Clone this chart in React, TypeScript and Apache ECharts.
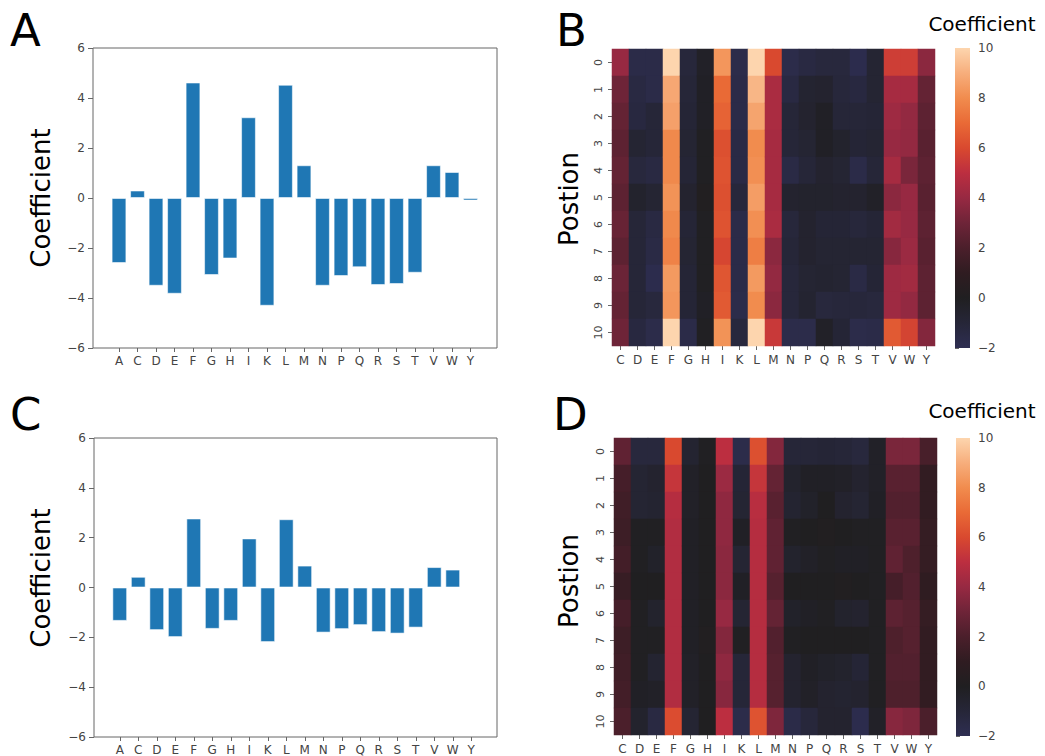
import React, { useEffect, useRef } from "react";
import * as echarts from "echarts";

// ---------- data ----------
const residues20 = ["A", "C", "D", "E", "F", "G", "H", "I", "K", "L", "M", "N", "P", "Q", "R", "S", "T", "V", "W", "Y"];
const residues19 = ["C", "D", "E", "F", "G", "H", "I", "K", "L", "M", "N", "P", "Q", "R", "S", "T", "V", "W", "Y"];
const positions = ["0", "1", "2", "3", "4", "5", "6", "7", "8", "9", "10"];
const colorbarTicks = [-2, 0, 2, 4, 6, 8, 10];

const coefA = [-2.6, 0.3, -3.51, -3.83, 4.62, -3.08, -2.42, 3.23, -4.31, 4.53, 1.31, -3.51, -3.12, -2.77, -3.48, -3.44, -2.99, 1.31, 1.04, -0.1];
const coefC = [-1.34, 0.43, -1.71, -1.99, 2.77, -1.66, -1.34, 1.97, -2.19, 2.74, 0.88, -1.81, -1.67, -1.51, -1.79, -1.85, -1.61, 0.82, 0.72, -0.02];

// heatmap values, one array per residue (C..Y), positions 0..10
const heatB = [
  [4.0, 3.0, 2.7, 2.5, 2.7, 2.5, 2.8, 2.5, 2.9, 2.7, 3.0],
  [-1.6, -1.4, -1.3, -0.8, -1.2, -0.5, -1.0, -1.0, -1.0, -1.0, -1.3],
  [-1.6, -1.6, -1.0, -1.0, -1.4, -0.8, -1.4, -1.5, -1.8, -1.2, -1.7],
  [10, 8.8, 8.6, 7.9, 7.9, 8.2, 7.9, 7.7, 8.4, 8.3, 10],
  [-1.1, -1.0, -0.9, -0.8, -0.9, -0.6, -0.9, -0.8, -0.9, -0.9, -1.6],
  [-0.3, -0.2, -0.2, -0.1, -0.1, 0.1, -0.1, -0.1, -0.1, -0.2, -0.1],
  [8.3, 7.0, 6.8, 6.2, 6.3, 6.2, 6.3, 5.9, 6.4, 6.5, 8.2],
  [-1.7, -1.6, -1.6, -1.5, -1.5, -1.1, -1.6, -1.6, -1.6, -1.7, -1.2],
  [10, 9.2, 8.7, 8.0, 8.1, 8.5, 8.1, 7.6, 8.4, 8.0, 10],
  [6.0, 4.5, 4.5, 4.4, 4.4, 4.4, 4.5, 3.7, 3.9, 3.7, 5.4],
  [-1.7, -1.4, -1.0, -1.0, -1.5, -0.6, -1.1, -1.0, -1.1, -1.1, -1.7],
  [-1.4, -0.7, -0.6, -0.8, -1.0, -0.5, -0.6, -0.6, -0.8, -0.7, -1.7],
  [-1.2, -0.6, -0.2, -0.2, -0.6, -0.5, -0.9, -0.8, -0.7, -1.2, -0.3],
  [-1.2, -1.1, -1.0, -0.5, -0.8, -0.6, -0.9, -0.8, -0.8, -1.1, -0.9],
  [-1.8, -1.3, -1.0, -0.9, -1.6, -0.6, -1.1, -0.8, -1.5, -1.1, -1.7],
  [-0.8, -0.8, -0.9, -0.8, -1.0, -0.3, -0.9, -0.8, -0.9, -1.2, -1.6],
  [5.6, 4.4, 4.2, 4.0, 4.4, 3.7, 4.3, 3.6, 4.2, 4.2, 6.5],
  [5.6, 4.4, 3.9, 3.9, 3.3, 4.0, 4.0, 4.1, 4.3, 3.9, 5.8],
  [3.7, 2.7, 2.5, 2.4, 2.5, 2.4, 2.5, 2.4, 2.5, 2.5, 3.5],
];

const heatD = [
  [2.6, 1.8, 1.6, 1.5, 1.7, 1.3, 1.8, 1.5, 1.6, 1.7, 2.0],
  [-1.2, -0.8, -0.8, -0.1, -0.1, 0.0, -0.1, -0.1, -0.1, -0.2, -0.5],
  [-1.2, -0.6, -0.7, -0.1, -0.4, 0.0, -0.5, -0.1, -0.7, -0.3, -1.4],
  [6.0, 5.3, 4.8, 4.7, 4.7, 4.7, 4.7, 4.7, 4.7, 4.7, 6.1],
  [-0.7, -0.3, -0.3, -0.2, -0.2, -0.2, -0.2, -0.2, -0.3, -0.3, -0.8],
  [-0.1, 0, 0, 0, 0, 0, 0, 0.1, 0, 0, 0],
  [5.0, 4.1, 3.8, 3.8, 3.7, 3.7, 4.0, 3.5, 3.8, 3.6, 5.0],
  [-1.7, -0.9, -0.8, -0.2, -0.8, -0.2, -0.8, -0.1, -1.0, -1.0, -1.7],
  [6.2, 5.3, 4.9, 4.8, 4.8, 4.8, 4.8, 4.8, 4.8, 4.8, 6.3],
  [3.5, 2.7, 2.4, 2.6, 2.6, 2.3, 2.7, 2.2, 2.3, 2.3, 3.4],
  [-1.0, -0.5, -0.7, -0.1, -0.5, 0.0, -0.4, -0.1, -0.6, -0.6, -1.6],
  [-1.0, -0.2, -0.4, 0.0, -0.3, 0.0, -0.2, 0.0, -0.2, -0.3, -1.1],
  [-0.9, -0.2, 0.0, 0.1, -0.1, 0.0, -0.1, 0.0, -0.4, -0.6, -0.6],
  [-1.0, -0.3, -0.6, 0.0, -0.2, 0.1, -0.5, 0.0, -0.5, -0.7, -0.6],
  [-1.2, -0.6, -0.8, -0.1, -0.2, 0.0, -0.6, 0.0, -0.9, -0.6, -1.8],
  [-0.3, -0.3, -0.2, -0.1, -0.1, -0.1, -0.1, -0.1, -0.1, -0.1, -0.3],
  [3.3, 2.4, 2.2, 2.4, 2.6, 1.8, 2.5, 2.1, 2.2, 2.1, 3.6],
  [3.3, 2.4, 2.2, 2.4, 2.1, 2.2, 2.3, 2.3, 2.2, 2.1, 3.4],
  [1.9, 1.1, 1.1, 1.2, 1.2, 1.0, 1.2, 1.1, 1.1, 1.1, 2.0],
];

// icefire (upper part) colour stops from -2 to 10
const cmapColors = [
  "#2e2e52", "#262638", "#201f21", "#2f1c21", "#4b1f2b", "#6e2438", "#972942",
  "#bc2e40", "#d9492f", "#e96a36", "#f18c4e", "#f7ae7c", "#fdd5ae",
];

const FONT = "DejaVu Sans";
const minusFmt = (v: number) => String(v).replace("-", "\u2212");

function heatData(m: number[][]) {
  const out: number[][] = [];
  m.forEach((col, ci) => col.forEach((v, ri) => out.push([ci, ri, v])));
  return out;
}

function gradientFill() {
  return new echarts.graphic.LinearGradient(0, 1, 0, 0,
    cmapColors.map((c, i) => ({ offset: i / (cmapColors.length - 1), color: c })));
}

export default function App() {
  const ref = useRef<HTMLDivElement>(null);
  useEffect(() => {
    document.body.style.margin = "0";
    const chart = echarts.init(ref.current!, null, { renderer: "svg" });

    const tickLbl = { fontFamily: FONT, fontSize: 12, color: "#444" };
    const frameGrid = { show: true, borderColor: "#666", borderWidth: 1, backgroundColor: "transparent" };

    const frameY = (gi: number) => ({
      type: "value", gridIndex: gi, min: -6, max: 6, interval: 2,
      axisLine: { show: false }, splitLine: { show: false },
      axisTick: { show: true, length: 5, lineStyle: { color: "#666" } },
      axisLabel: { ...tickLbl, margin: 8, formatter: minusFmt },
    });
    const hiddenY = (gi: number) => ({ type: "value", gridIndex: gi, min: -6, max: 6, show: false });
    const hiddenX = (gi: number) => ({ type: "value", gridIndex: gi, min: 0, max: 1, show: false });
    const barX = (gi: number) => ({
      type: "category", gridIndex: gi, data: residues20,
      axisLine: { show: false, onZero: false },
      axisTick: { show: true, alignWithLabel: true, length: 4, lineStyle: { color: "#666" } },
      axisLabel: { ...tickLbl, margin: 7 },
    });
    const heatX = (gi: number) => ({
      type: "category", gridIndex: gi, data: residues19,
      axisLine: { show: false, onZero: false },
      axisTick: { show: true, alignWithLabel: true, length: 4, lineStyle: { color: "#666" } },
      axisLabel: { ...tickLbl, margin: 8 },
      splitArea: { show: false },
    });
    const heatY = (gi: number) => ({
      type: "category", gridIndex: gi, data: positions, inverse: true,
      axisLine: { show: false, onZero: false },
      axisTick: { show: true, alignWithLabel: true, length: 4, lineStyle: { color: "#666" } },
      axisLabel: { ...tickLbl, fontSize: 11, margin: 8, rotate: 90 },
      splitArea: { show: false },
    });
    const cbY = (gi: number) => ({
      type: "value", gridIndex: gi, min: colorbarTicks[0], max: colorbarTicks[colorbarTicks.length - 1], interval: 2,
      position: "right",
      axisLine: { show: false }, splitLine: { show: false },
      axisTick: { show: true, length: 4, lineStyle: { color: "#666" } },
      axisLabel: { ...tickLbl, margin: 8, formatter: minusFmt },
    });

    const barStyle = { color: "#1f77b4", borderColor: "rgba(255,255,255,0.55)", borderWidth: 1 };

    const bigLetter = (t: string, x: number, y: number) => ({
      type: "text", left: x, top: y,
      style: { text: t, fontFamily: FONT, fontSize: 45, fill: "#000" },
    });
    const yName = (t: string, x: number, y: number) => ({
      type: "text", x, y, rotation: Math.PI / 2,
      style: { text: t, fontFamily: FONT, fontSize: 26, fill: "#000", align: "center", verticalAlign: "middle" },
    });
    const cbTitle = (x: number, y: number) => ({
      type: "text", x, y,
      style: { text: "Coefficient", fontFamily: FONT, fontSize: 20, fill: "#000", align: "center", verticalAlign: "middle" },
    });

    const option: any = {
      animation: false,
      backgroundColor: "#fff",
      grid: [
        { left: 93, top: 48, width: 404, height: 300, ...frameGrid },
        { left: 109.75, top: 48, width: 370, height: 300 },
        { left: 94, top: 438, width: 403, height: 299, ...frameGrid },
        { left: 110.5, top: 438, width: 370, height: 299 },
        { left: 612, top: 49, width: 323, height: 297 },
        { left: 614, top: 438, width: 323, height: 297 },
        { left: 955, top: 48, width: 15, height: 300 },
        { left: 956, top: 438, width: 14, height: 298 },
      ],
      xAxis: [hiddenX(0), barX(1), hiddenX(2), barX(3), heatX(4), heatX(5), hiddenX(6), hiddenX(7)],
      yAxis: [frameY(0), hiddenY(1), frameY(2), hiddenY(3), heatY(4), heatY(5), cbY(6), cbY(7)],
      visualMap: [
        { type: "continuous", show: false, min: -2, max: 10, seriesIndex: 2, inRange: { color: cmapColors } },
        { type: "continuous", show: false, min: -2, max: 10, seriesIndex: 3, inRange: { color: cmapColors } },
      ],
      series: [
        { type: "bar", xAxisIndex: 1, yAxisIndex: 1, data: coefA, barWidth: "80%", itemStyle: barStyle },
        { type: "bar", xAxisIndex: 3, yAxisIndex: 3, data: coefC, barWidth: "80%", itemStyle: barStyle },
        { type: "heatmap", xAxisIndex: 4, yAxisIndex: 4, data: heatData(heatB), itemStyle: { borderWidth: 0 } },
        { type: "heatmap", xAxisIndex: 5, yAxisIndex: 5, data: heatData(heatD), itemStyle: { borderWidth: 0 } },
      ],
      graphic: [
        bigLetter("A", 10, 8),
        bigLetter("B", 556, 8),
        bigLetter("C", 10, 392),
        bigLetter("D", 553, 392),
        yName("Coefficient", 41, 198),
        yName("Coefficient", 41, 578),
        yName("Postion", 569, 199),
        yName("Postion", 569, 581),
        cbTitle(982, 24),
        cbTitle(982, 411),
        { type: "rect", shape: { x: 955, y: 48, width: 15, height: 300 }, style: { fill: gradientFill() }, z: 10 },
        { type: "rect", shape: { x: 956, y: 438, width: 14, height: 298 }, style: { fill: gradientFill() }, z: 10 },
      ],
    };
    chart.setOption(option);
    return () => chart.dispose();
  }, []);
  return <div ref={ref} style={{ width: 1045, height: 756 }} />;
}
